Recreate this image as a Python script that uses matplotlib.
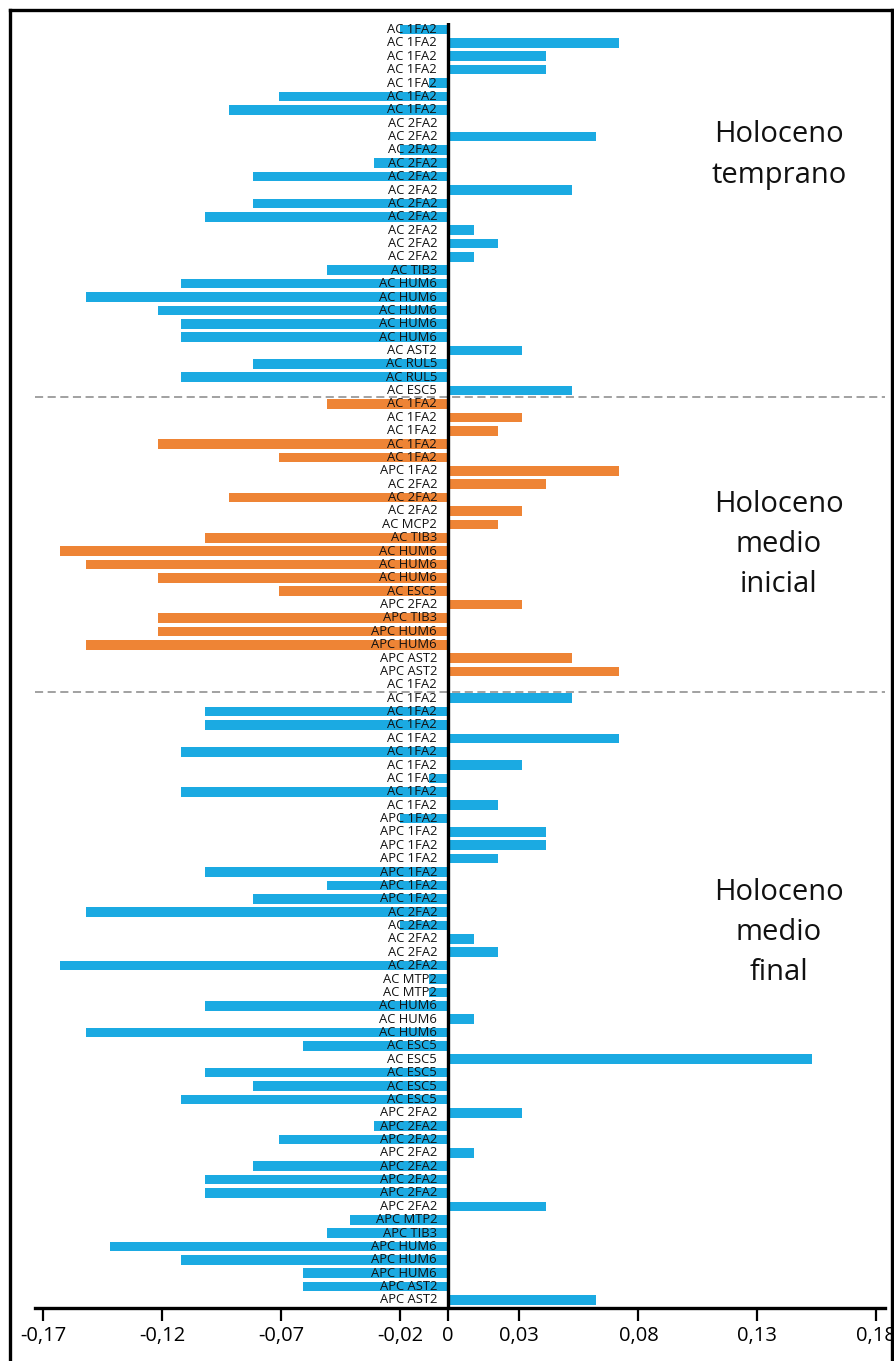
import matplotlib
matplotlib.use("Agg")
import matplotlib.pyplot as plt
from matplotlib.lines import Line2D

# ---- data (top to bottom) ----
labels_temprano = ["AC 1FA2"] * 7 + ["AC 2FA2"] * 11 + ["AC TIB3"] + ["AC HUM6"] * 5 + \
    ["AC AST2", "AC RUL5", "AC RUL5", "AC ESC5"]
values_temprano = [-0.020, 0.072, 0.041, 0.041, -0.008, -0.071, -0.092,
                   0.0, 0.062, -0.020, -0.031, -0.082, 0.052, -0.082, -0.102, 0.011, 0.021, 0.011,
                   -0.051,
                   -0.112, -0.152, -0.122, -0.112, -0.112,
                   0.031, -0.082, -0.112, 0.052]

labels_inicial = ["AC 1FA2"] * 5 + ["APC 1FA2"] + ["AC 2FA2"] * 3 + ["AC MCP2", "AC TIB3"] + \
    ["AC HUM6"] * 3 + ["AC ESC5", "APC 2FA2", "APC TIB3", "APC HUM6", "APC HUM6",
                       "APC AST2", "APC AST2", "AC 1FA2"]
values_inicial = [-0.051, 0.031, 0.021, -0.122, -0.071,
                  0.072,
                  0.041, -0.092, 0.031,
                  0.021, -0.102,
                  -0.163, -0.152, -0.122,
                  -0.071, 0.031, -0.122, -0.122, -0.152,
                  0.052, 0.072, 0.0]

labels_final = ["AC 1FA2"] * 9 + ["APC 1FA2"] * 7 + ["AC 2FA2"] * 5 + ["AC MTP2"] * 2 + \
    ["AC HUM6"] * 3 + ["AC ESC5"] * 5 + ["APC 2FA2"] * 8 + \
    ["APC MTP2", "APC TIB3", "APC HUM6", "APC HUM6", "APC HUM6", "APC AST2", "APC AST2"]
values_final = [0.052, -0.102, -0.102, 0.072, -0.112, 0.031, -0.008, -0.112, 0.021,
                -0.020, 0.041, 0.041, 0.021, -0.102, -0.051, -0.082,
                -0.152, -0.020, 0.011, 0.021, -0.163,
                -0.008, -0.008,
                -0.102, 0.011, -0.152,
                -0.061, 0.153, -0.102, -0.082, -0.112,
                0.031, -0.031, -0.071, 0.011, -0.082, -0.102, -0.102, 0.041,
                -0.041, -0.051, -0.142, -0.112, -0.061, -0.061, 0.062]

section_names = ["Holoceno\ntemprano", "Holoceno\nmedio\ninicial", "Holoceno\nmedio\nfinal"]
xticks = [-0.17, -0.12, -0.07, -0.02, 0, 0.03, 0.08, 0.13, 0.18]

BLUE = "#1BAAE2"
ORANGE = "#EE8435"

labels = labels_temprano + labels_inicial + labels_final
values = values_temprano + values_inicial + values_final
colors = [BLUE] * len(values_temprano) + [ORANGE] * len(values_inicial) + [BLUE] * len(values_final)

W, H = 894, 1361
fig = plt.figure(figsize=(W / 100, H / 100), dpi=100)
fig.patch.set_facecolor("white")

ax_left, ax_right, ax_top, ax_bot = 35, 885, 23, 1308
ax = fig.add_axes([ax_left / W, 1 - ax_bot / H, (ax_right - ax_left) / W, (ax_bot - ax_top) / H])

n = len(values)
ypos = list(range(n))
ax.barh(ypos, values, height=0.72, color=colors, zorder=2)

ax.set_xlim(-0.1735, 0.1836)
ax.set_ylim(n - 1 + 0.6, -0.49)

ax.axvline(0, color="black", lw=2.4, zorder=4)

for y, lab in zip(ypos, labels):
    ax.text(-0.0046, y, lab, ha="right", va="center", fontsize=9.4,
            family=["Open Sans", "DejaVu Sans"], color="#111111", zorder=5)

# section separators
b1 = len(values_temprano) - 0.5
b2 = len(values_temprano) + len(values_inicial) - 0.5
for b in (b1, b2):
    ax.axhline(b, color="#9a9a9a", lw=1.3, ls=(0, (4.5, 2.5)), zorder=3)

for s in ["top", "right", "left"]:
    ax.spines[s].set_visible(False)
ax.spines["bottom"].set_linewidth(2.4)
ax.set_yticks([])
ax.set_xticks(xticks)
ax.set_xticklabels([("%g" % t).replace(".", ",") for t in xticks],
                   fontsize=14.5, family=["Open Sans", "DejaVu Sans"])
ax.tick_params(axis="x", direction="out", length=9, width=1.6, pad=4, color="black")

# section titles
title_pos = [(779, 155), (779, 545), (779, 932)]
for (x, y), t in zip(title_pos, section_names):
    fig.text(x / W, 1 - y / H, t, ha="center", va="center", fontsize=21,
             family=["Open Sans", "DejaVu Sans"], linespacing=1.5, color="#111111")

# outer frame
lw = 2.4
fig.add_artist(Line2D([9.5 / W, 9.5 / W], [0, 1 - 10 / H], color="black", lw=lw, transform=fig.transFigure))
fig.add_artist(Line2D([9.5 / W, 1], [1 - 10 / H, 1 - 10 / H], color="black", lw=lw, transform=fig.transFigure))
fig.add_artist(Line2D([892 / W, 892 / W], [0, 1 - 10 / H], color="black", lw=lw, transform=fig.transFigure))

fig.savefig("out.png", dpi=100)
